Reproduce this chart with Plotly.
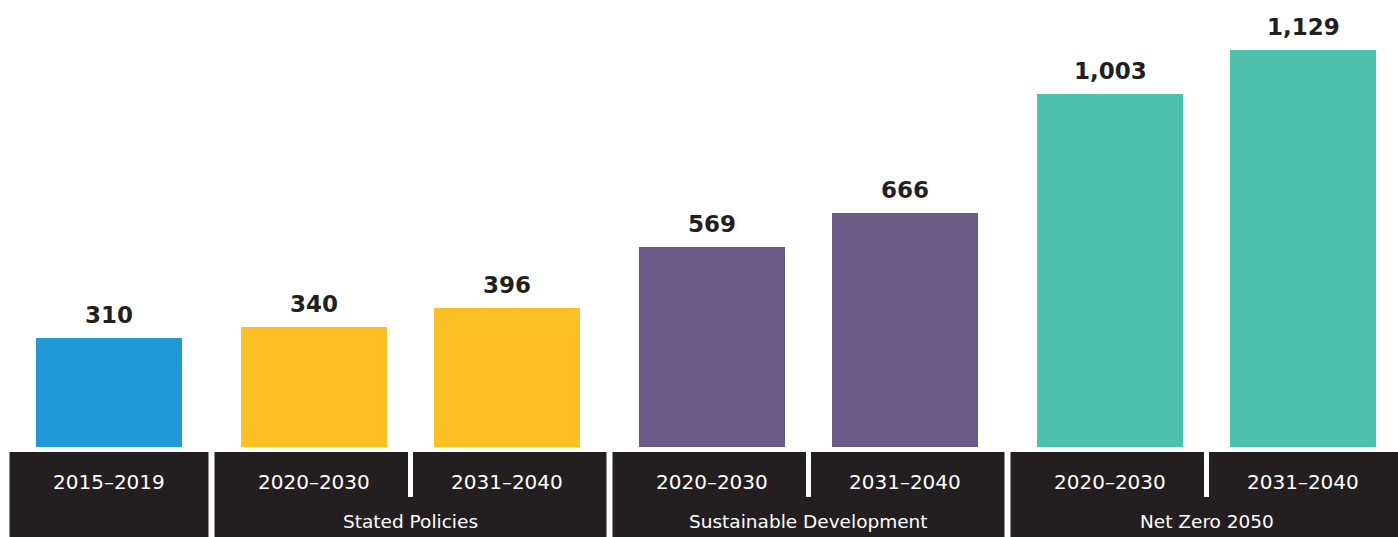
import plotly.graph_objects as go

# ---- data ----
periods = ["2015–2019", "2020–2030", "2031–2040", "2020–2030", "2031–2040", "2020–2030", "2031–2040"]
values = [310, 340, 396, 569, 666, 1003, 1129]
bar_group = [0, 1, 1, 2, 2, 3, 3]
group_names = ["", "Stated Policies", "Sustainable Development", "Net Zero 2050"]
group_colors = ["#1f9ad6", "#fdbf26", "#695985", "#4dc1ae"]

# ---- layout constants (pixels) ----
W, H = 1398, 537
BASE_Y = 447          # bar baseline, px from top
BOX_TOP = 452         # top of dark label band
DIV_BOTTOM = 497      # end of white dividers inside a band
PERIOD_Y = 482
GROUP_Y = 521
FIRST_CENTER = 109
CELL = 193
GROUP_GAP = 12
BAR_W = 146
BOX_PAD = 99.5
DARK = "#231f20"
FONT = "DejaVu Sans"

centers = [FIRST_CENTER + i * CELL + g * GROUP_GAP for i, g in enumerate(bar_group)]
colors = [group_colors[g] for g in bar_group]

y_top = max(values) * BASE_Y / (BASE_Y - 50)

fig = go.Figure()
fig.add_trace(go.Bar(
    x=centers, y=values, width=BAR_W,
    marker=dict(color=colors, line=dict(width=0)),
    hoverinfo="skip", showlegend=False,
))

def py(px):
    return 1 - px / H

shapes = []
annotations = []

for g, name in enumerate(group_names):
    idx = [i for i, bg in enumerate(bar_group) if bg == g]
    x0 = centers[idx[0]] - BOX_PAD
    x1 = centers[idx[-1]] + BOX_PAD
    shapes.append(dict(type="rect", xref="x", yref="paper", x0=x0, x1=x1,
                       y0=0, y1=py(BOX_TOP), fillcolor=DARK, line=dict(width=0), layer="below"))
    for a, b in zip(idx[:-1], idx[1:]):
        mid = (centers[a] + centers[b]) / 2
        shapes.append(dict(type="rect", xref="x", yref="paper", x0=mid - 2.5, x1=mid + 2.5,
                           y0=py(DIV_BOTTOM), y1=py(BOX_TOP), fillcolor="white",
                           line=dict(width=0), layer="above"))
    if name:
        annotations.append(dict(x=(x0 + x1) / 2, y=py(GROUP_Y), xref="x", yref="paper",
                                text=name, showarrow=False, xanchor="center", yanchor="middle",
                                font=dict(family=FONT, size=18.5, color="white")))

for c, p, v in zip(centers, periods, values):
    annotations.append(dict(x=c, y=py(PERIOD_Y), xref="x", yref="paper", text=p,
                            showarrow=False, xanchor="center", yanchor="middle",
                            font=dict(family=FONT, size=20, color="white")))
    annotations.append(dict(x=c, y=v, xref="x", yref="y", text=f"{v:,}",
                            showarrow=False, xanchor="center", yanchor="bottom", yshift=8,
                            font=dict(family=FONT, size=23, color=DARK, weight=700)))

fig.update_layout(
    width=W, height=H,
    margin=dict(l=0, r=0, t=0, b=0),
    paper_bgcolor="white", plot_bgcolor="white",
    xaxis=dict(range=[0, W], visible=False, fixedrange=True),
    yaxis=dict(range=[0, y_top], domain=[py(BASE_Y), 1], visible=False, fixedrange=True),
    shapes=shapes, annotations=annotations,
    bargap=0,
)

fig.write_html("out.html")
